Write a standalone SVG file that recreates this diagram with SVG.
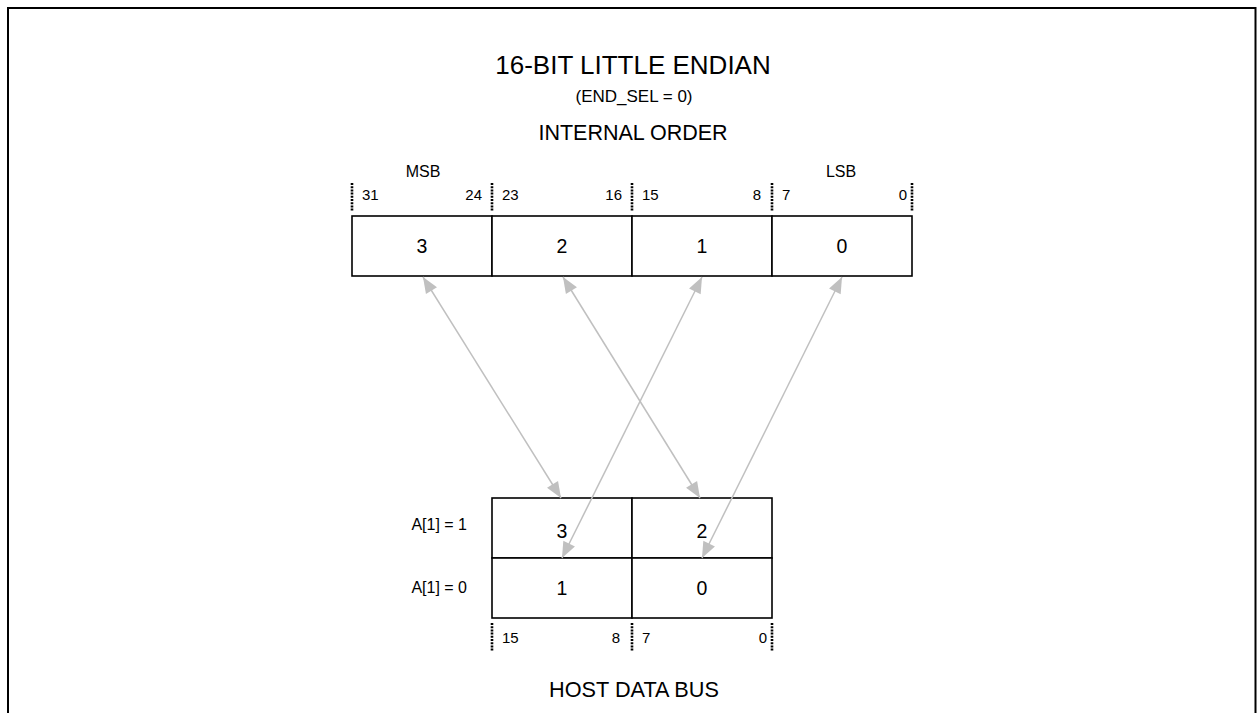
<svg xmlns="http://www.w3.org/2000/svg" width="1258" height="713" viewBox="0 0 1258 713">
<style>
text{font-family:"Liberation Sans",Arial,sans-serif;fill:#000}
.c{text-anchor:middle}
.e{text-anchor:end}
.cell{fill:#fff;stroke:#000;stroke-width:1.6}
.dot{stroke:#000;stroke-width:2.6;stroke-dasharray:2 1.2}
.num{font-size:19.5px}
.bit{font-size:15px}
.lab{font-size:16px}
.conn{stroke:#c0c0c0;stroke-width:1.5;fill:none;marker-start:url(#ah);marker-end:url(#ah)}
</style>
<defs>
<marker id="ah" markerUnits="userSpaceOnUse" markerWidth="20" markerHeight="16" viewBox="0 0 20 16" refX="18" refY="8" orient="auto-start-reverse">
<path d="M2,1.5 L18,8 L2,14.5 Z" fill="#c0c0c0"/>
</marker>
</defs>
<rect width="1258" height="713" fill="#fff"/>
<path d="M8,713 V8 H1255.5 V713" fill="none" stroke="#000" stroke-width="2"/>
<g id="titles">
<text class="c" x="633" y="74" font-size="26">16-BIT LITTLE ENDIAN</text>
<text class="c" x="634" y="102" font-size="17">(END_SEL = 0)</text>
<text class="c" x="633" y="140" font-size="21.5">INTERNAL ORDER</text>
<text class="c" x="634" y="697" font-size="21.7">HOST DATA BUS</text>
</g>
<g id="internal">
<text class="c lab" x="423" y="177">MSB</text>
<text class="c lab" x="841" y="177">LSB</text>
<g class="bits">
<line class="dot" x1="352" y1="183" x2="352" y2="211"/>
<line class="dot" x1="492" y1="183" x2="492" y2="211"/>
<line class="dot" x1="632" y1="183" x2="632" y2="211"/>
<line class="dot" x1="772" y1="183" x2="772" y2="211"/>
<line class="dot" x1="912" y1="183" x2="912" y2="211"/>
<text class="bit" x="362" y="200">31</text>
<text class="bit e" x="482" y="200">24</text>
<text class="bit" x="502" y="200">23</text>
<text class="bit e" x="622" y="200">16</text>
<text class="bit" x="642" y="200">15</text>
<text class="bit e" x="761" y="200">8</text>
<text class="bit" x="782" y="200">7</text>
<text class="bit e" x="907" y="200">0</text>
</g>
<g id="int3"><rect class="cell" x="352" y="216" width="140" height="60"/><text class="c num" x="422" y="253">3</text></g>
<g id="int2"><rect class="cell" x="492" y="216" width="140" height="60"/><text class="c num" x="562" y="253">2</text></g>
<g id="int1"><rect class="cell" x="632" y="216" width="140" height="60"/><text class="c num" x="702" y="253">1</text></g>
<g id="int0"><rect class="cell" x="772" y="216" width="140" height="60"/><text class="c num" x="842" y="253">0</text></g>
</g>
<g id="host">
<text class="e lab" x="467" y="530">A[1] = 1</text>
<text class="e lab" x="467" y="593">A[1] = 0</text>
<g id="host3"><rect class="cell" x="492" y="498" width="140" height="60"/><text class="c num" x="562" y="538">3</text></g>
<g id="host2"><rect class="cell" x="632" y="498" width="140" height="60"/><text class="c num" x="702" y="538">2</text></g>
<g id="host1"><rect class="cell" x="492" y="558" width="140" height="60"/><text class="c num" x="562" y="595">1</text></g>
<g id="host0"><rect class="cell" x="632" y="558" width="140" height="60"/><text class="c num" x="702" y="595">0</text></g>
<line class="dot" x1="492" y1="623" x2="492" y2="651"/>
<line class="dot" x1="632" y1="623" x2="632" y2="651"/>
<line class="dot" x1="772" y1="623" x2="772" y2="651"/>
<text class="bit" x="502" y="643">15</text>
<text class="bit e" x="620" y="643">8</text>
<text class="bit" x="642" y="643">7</text>
<text class="bit e" x="767" y="643">0</text>
</g>
<g id="connectors">
<line class="conn" x1="423" y1="277" x2="561" y2="498"/>
<line class="conn" x1="563" y1="277" x2="700" y2="498"/>
<line class="conn" x1="702" y1="277" x2="562" y2="558"/>
<line class="conn" x1="842" y1="277" x2="702" y2="558"/>
</g>
</svg>
